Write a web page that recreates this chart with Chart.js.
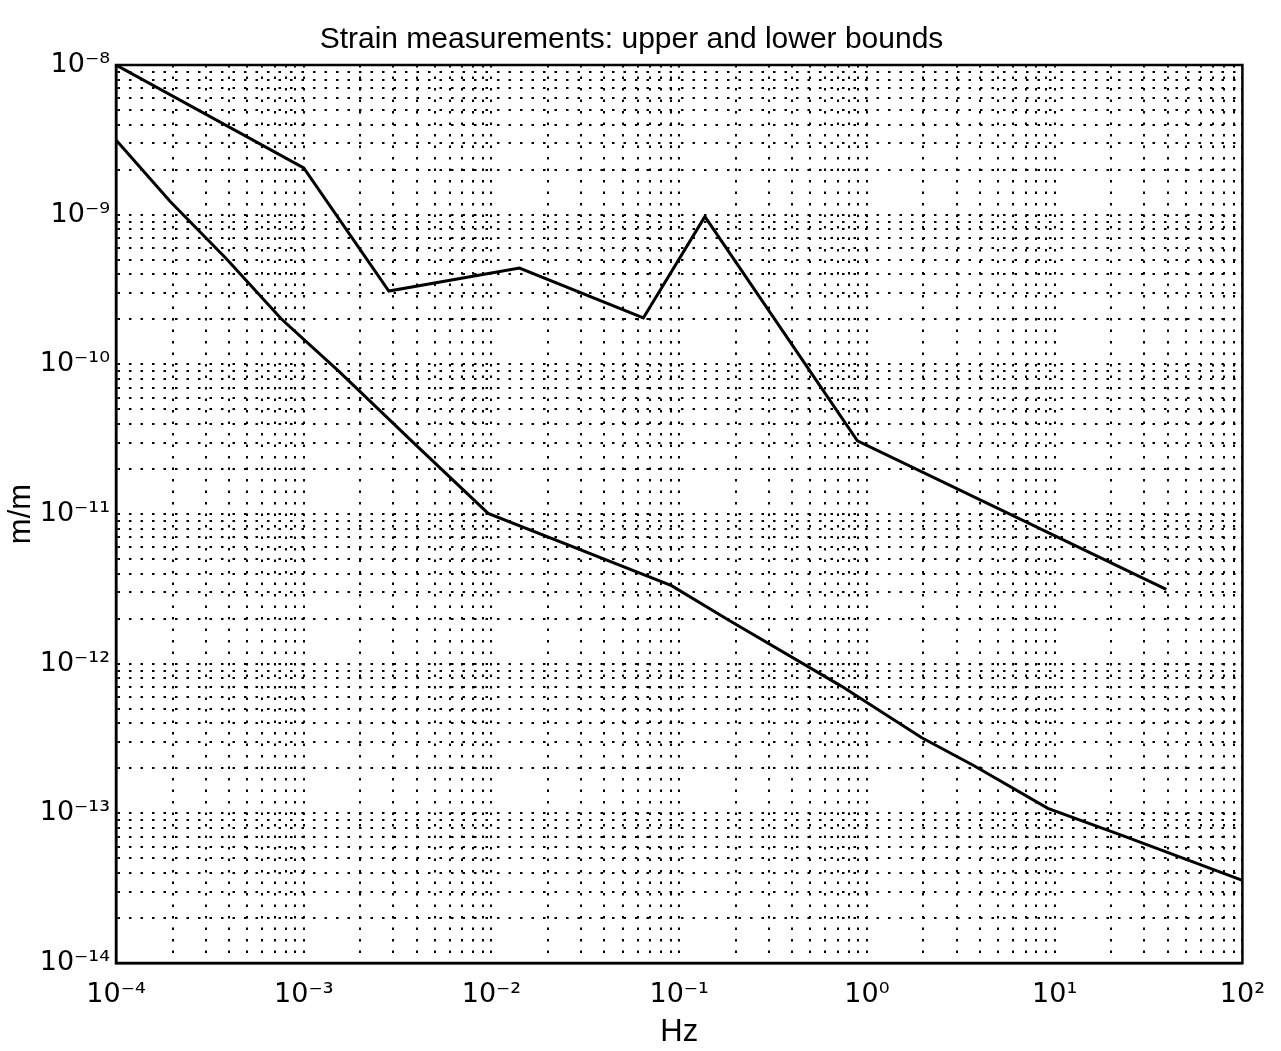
<!DOCTYPE html>
<html><head><meta charset="utf-8">
<script src="https://cdn.jsdelivr.net/npm/chart.js@4/dist/chart.umd.min.js"></script>
<style>html,body{margin:0;padding:0;background:#fff;} #wrap{width:1281px;height:1051px;}</style>
</head><body><div id="wrap"><canvas id="c" width="1281" height="1051"></canvas></div>
<script>
// ---- data ----
const upperHz     = [1e-4, 1.0e-3, 2.84e-3, 1.41e-2, 6.44e-2, 0.137, 0.89, 39.3];
const upperStrain = [1e-8, 2.05e-9, 3.09e-10, 4.4e-10, 2.04e-10, 9.7e-10, 3.08e-11, 3.14e-12];
const lowerHz     = [1.0e-4, 1.95e-4, 3.86e-4, 7.63e-4, 1.54e-3, 3.8e-3, 9.6e-3, 9.1e-2, 0.183, 0.73, 1.95, 3.72, 9.2, 23.2, 100];
const lowerStrain = [3.16e-9, 1.22e-9, 5.1e-10, 2.0e-10, 8.97e-11, 3.03e-11, 1.01e-11, 3.32e-12, 1.96e-12, 7.08e-13, 3.21e-13, 2.08e-13, 1.08e-13, 7.06e-14, 3.57e-14];
const xDecades = [-4, -3, -2, -1, 0, 1, 2];
const yDecades = [-14, -13, -12, -11, -10, -9, -8];
const minorSteps = [1, 2, 3, 4, 5, 6, 7, 8, 9];
const titleText = 'Strain measurements: upper and lower bounds';
const xTitle = 'Hz';
const yTitle = 'm/m';

const SUP = {'-':'\u207B','0':'\u2070','1':'\u00B9','2':'\u00B2','3':'\u00B3','4':'\u2074','5':'\u2075','6':'\u2076','7':'\u2077','8':'\u2078','9':'\u2079'};
function sup(n){ return String(n).split('').map(c => SUP[c]).join(''); }
function decadeTicks(decs){
  const out = [];
  for (let i = 0; i < decs.length; i++) {
    if (i === decs.length - 1) { out.push({value: Math.pow(10, decs[i])}); break; }
    for (const m of minorSteps) out.push({value: m * Math.pow(10, decs[i])});
  }
  return out;
}
function labelFor(v){
  const e = Math.round(Math.log10(v));
  return Math.abs(v / Math.pow(10, e) - 1) < 1e-6 ? '10' + sup(e) : '';
}
const FONT = 'Liberation Sans, Arial, Helvetica, sans-serif';
const TICKFONT = 'DejaVu Sans, sans-serif';

const boxPlugin = {
  id: 'box',
  afterDraw(chart){
    const a = chart.chartArea, ctx = chart.ctx;
    ctx.save(); ctx.strokeStyle = '#000'; ctx.lineWidth = 2.5;
    ctx.strokeRect(a.left, a.top, a.right - a.left, a.bottom - a.top);
    ctx.restore();
  }
};

new Chart(document.getElementById('c'), {
  type: 'line',
  data: {
    datasets: [
      { label: 'upper', data: upperHz.map((x, i) => ({x, y: upperStrain[i]})), borderColor: '#000', borderWidth: 3, pointRadius: 0, fill: false, tension: 0 },
      { label: 'lower', data: lowerHz.map((x, i) => ({x, y: lowerStrain[i]})), borderColor: '#000', borderWidth: 3, pointRadius: 0, fill: false, tension: 0 }
    ]
  },
  options: {
    responsive: false, animation: false, maintainAspectRatio: false,
    layout: { padding: { left: 0, right: 18, top: 0, bottom: 0 }, autoPadding: false },
    plugins: {
      legend: { display: false }, tooltip: { enabled: false },
      title: { display: true, text: titleText, color: '#000', font: { family: FONT, size: 30, weight: 'normal' }, padding: { top: 22, bottom: 7 } }
    },
    scales: {
      x: {
        type: 'logarithmic', min: Math.pow(10, xDecades[0]), max: Math.pow(10, xDecades[xDecades.length - 1]),
        afterBuildTicks: s => { s.ticks = decadeTicks(xDecades); },
        afterFit: s => { s.height = 88; },
        ticks: { autoSkip: false, maxRotation: 0, minRotation: 0, padding: 16, color: '#000', font: { family: TICKFONT, size: 27 }, callback: v => labelFor(v) },
        grid: { color: '#000', lineWidth: 2, drawTicks: false },
        border: { display: true, color: '#000', width: 2.5, dash: [2.5, 9] },
        title: { display: true, text: xTitle, color: '#000', font: { family: FONT, size: 31 }, padding: { top: 0, bottom: 0 } }
      },
      y: {
        type: 'logarithmic', min: Math.pow(10, yDecades[0]), max: Math.pow(10, yDecades[yDecades.length - 1]),
        afterBuildTicks: s => { s.ticks = decadeTicks(yDecades); },
        afterFit: s => { s.width = 116; },
        ticks: { autoSkip: false, padding: 6, color: '#000', font: { family: TICKFONT, size: 27 }, callback: v => labelFor(v) },
        grid: { color: '#000', lineWidth: 2, drawTicks: false },
        border: { display: true, color: '#000', width: 2.5, dash: [2.5, 9] },
        title: { display: true, text: yTitle, color: '#000', font: { family: FONT, size: 31 }, padding: { top: 3, bottom: 0 } }
      }
    }
  },
  plugins: [boxPlugin]
});
</script></body></html>
